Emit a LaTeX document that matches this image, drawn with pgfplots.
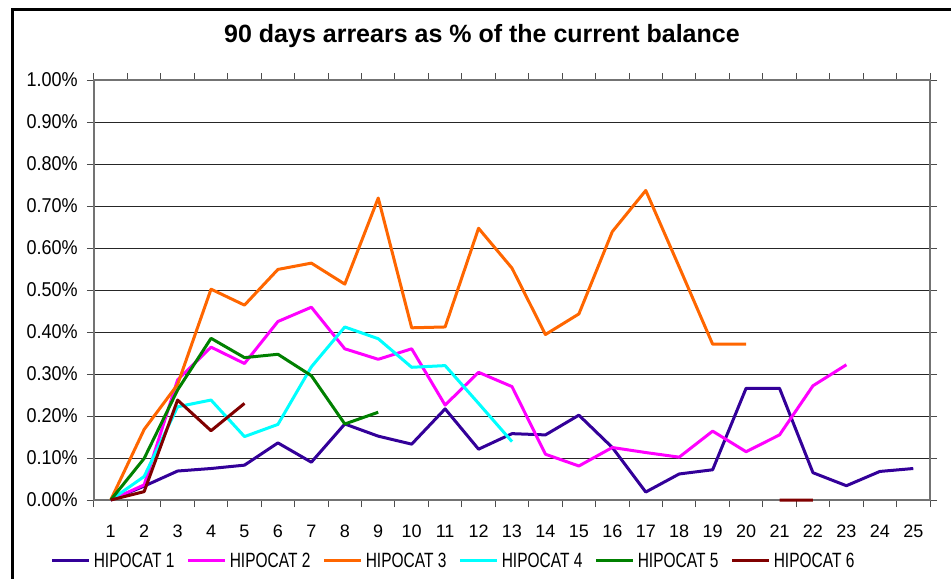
\documentclass[border=0pt]{standalone}
\usepackage{pgfplots}
\pgfplotsset{compat=1.18}
\usepackage{fontspec}
\setmainfont{Liberation Sans}
\newfontfamily\legfont[FakeStretch=0.75]{Liberation Sans}
\newfontfamily\ytfont[FakeStretch=0.9]{Liberation Sans}
\newlength\px \setlength\px{0.75pt}
\definecolor{hcA}{RGB}{51,0,153}
\definecolor{hcB}{RGB}{255,0,255}
\definecolor{hcC}{RGB}{255,102,0}
\definecolor{hcD}{RGB}{0,255,255}
\definecolor{hcE}{RGB}{0,128,0}
\definecolor{hcF}{RGB}{128,0,0}
\newcommand{\legtxt}[1]{\makebox[96\px][l]{\hspace{3\px}#1}}
\begin{document}
\begin{tikzpicture}
\useasboundingbox (0,0) rectangle (951\px,-579\px);
\draw[line width=3\px] (12\px,-580\px) -- (12\px,-9\px) -- (952\px,-9\px);
\node[anchor=base, inner sep=0pt, font=\fontsize{18.75}{22}\selectfont\bfseries] at (482\px,-42\px) {90 days arrears as \% of the current balance};
\begin{axis}[
 scale only axis, width=836\px, height=420\px,
 at={(94\px,-500\px)}, anchor=south west,
 xmin=0.5, xmax=25.5, ymin=0, ymax=1,
 xtick={1,2,3,4,5,6,7,8,9,10,11,12,13,14,15,16,17,18,19,20,21,22,23,24,25},
 minor xtick={0.5,1.5,2.5,3.5,4.5,5.5,6.5,7.5,8.5,9.5,10.5,11.5,12.5,13.5,14.5,15.5,16.5,17.5,18.5,19.5,20.5,21.5,22.5,23.5,24.5,25.5},
 ytick={0,0.1,0.2,0.3,0.4,0.5,0.6,0.7,0.8,0.9,1.0},
 tick align=outside, major tick length=7\px, minor tick length=7\px,
 major x tick style={draw=none},
 minor x tick style={black!70, line width=1\px},
 major y tick style={black!70, line width=1\px},
 ymajorgrids, grid style={black!85, line width=1\px},
 axis line style={black!55, line width=1.2\px},
 /pgf/number format/assume math mode=true,
 yticklabel={\pgfmathprintnumber[fixed,fixed zerofill,precision=2]{\tick}\%},
 yticklabel style={font=\ytfont\fontsize{15}{18}\selectfont, inner sep=0pt, xshift=-9\px},
 xticklabel style={font=\fontsize{13.5}{16}\selectfont, inner sep=0pt, yshift=-18\px},
 unbounded coords=jump,
 clip=false,
 every axis plot/.append style={line width=3\px, line join=round},
 legend columns=6,
 legend image code/.code={\draw[#1] (0pt,0pt) -- (37\px,0pt);},
 legend style={draw=none, fill=none, inner sep=0pt, nodes={inner sep=0pt},
   font=\legfont\fontsize{15.5}{18}\selectfont,
   at={(-0.052,-0.145)}, anchor=west},
]
\addplot[hcA, no markers] coordinates {(1,0) (2,0.033) (3,0.069) (4,0.075) (5,0.083) (6,0.136) (7,0.090) (8,0.181) (9,0.152) (10,0.133) (11,0.217) (12,0.121) (13,0.158) (14,0.155) (15,0.202) (16,0.125) (17,0.019) (18,0.062) (19,0.072) (20,0.266) (21,0.266) (22,0.065) (23,0.034) (24,0.068) (25,0.075)};
\addlegendentry{\legtxt{HIPOCAT 1}}
\addplot[hcB, no markers] coordinates {(1,0) (2,0.036) (3,0.286) (4,0.364) (5,0.325) (6,0.425) (7,0.459) (8,0.360) (9,0.335) (10,0.360) (11,0.226) (12,0.304) (13,0.270) (14,0.109) (15,0.081) (16,0.125) (17,0.113) (18,0.102) (19,0.164) (20,0.115) (21,0.155) (22,0.272) (23,0.322)};
\addlegendentry{\legtxt{HIPOCAT 2}}
\addplot[hcC, no markers] coordinates {(1,0) (2,0.168) (3,0.275) (4,0.502) (5,0.464) (6,0.549) (7,0.564) (8,0.514) (9,0.719) (10,0.410) (11,0.412) (12,0.647) (13,0.552) (14,0.394) (15,0.443) (16,0.639) (17,0.737) (18,0.555) (19,0.371) (20,0.371)};
\addlegendentry{\legtxt{HIPOCAT 3}}
\addplot[hcD, no markers] coordinates {(1,0) (2,0.056) (3,0.222) (4,0.238) (5,0.151) (6,0.180) (7,0.317) (8,0.412) (9,0.384) (10,0.316) (11,0.320) (12,0.230) (13,0.139)};
\addlegendentry{\legtxt{HIPOCAT 4}}
\addplot[hcE, no markers] coordinates {(1,0) (2,0.099) (3,0.262) (4,0.385) (5,0.339) (6,0.347) (7,0.296) (8,0.181) (9,0.209)};
\addlegendentry{\legtxt{HIPOCAT 5}}
\addplot[hcF, no markers] coordinates {(1,0) (2,0.020) (3,0.238) (4,0.165) (5,0.230) (6,nan) (21,0) (22,0)};
\addlegendentry{\legtxt{HIPOCAT 6}}
\end{axis}
\end{tikzpicture}
\end{document}
